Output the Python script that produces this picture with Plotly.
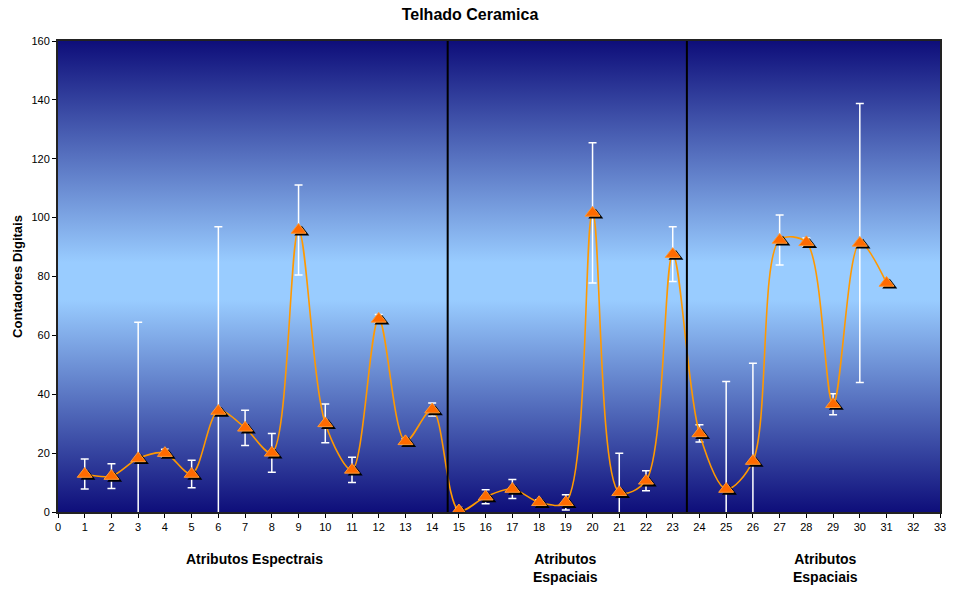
import plotly.graph_objects as go

# ---- data ----
atributos = list(range(1, 32))
contadores = [12.9, 12.2, 18.2, 20.0, 12.9, 34.3, 28.6, 20.1, 95.8, 30.1,
              14.3, 65.6, 24.0, 34.8, 0.5, 5.2, 7.8, 3.3, 3.3, 101.6,
              6.7, 10.6, 87.6, 26.7, 7.8, 17.3, 92.4, 91.6, 36.6, 91.4, 77.8]
desvio = [5.1, 4.2, 46.3, 1.3, 4.7, 62.6, 6.0, 6.6, 15.3, 6.6,
          4.3, 1.5, 0.9, 2.2, 1.0, 2.4, 3.2, 0.9, 2.6, 23.8,
          13.3, 3.4, 9.3, 2.9, 36.5, 33.2, 8.5, 1.5, 3.6, 47.4, 0.0]
separadores = [14.58, 23.53]
grupos = ["Atributos Espectrais", "Atributos<br>Espaciais", "Atributos<br>Espaciais"]
grupos_x = [7.35, 19.0, 28.7]
x_ticks = list(range(0, 34))
y_ticks = list(range(0, 161, 20))

XMAX, YMAX = 33, 160
NAVY = "rgb(14,14,122)"
LIGHT = "rgb(153,204,255)"
FONT = "Liberation Sans, Arial, sans-serif"

W, H = 954, 590

fig = go.Figure()

# gradient background
fig.add_trace(go.Scatter(
    x=[0, XMAX, XMAX, 0, 0], y=[0, 0, YMAX, YMAX, 0],
    mode="lines", line=dict(width=0), fill="toself",
    fillgradient=dict(type="vertical", start=0, stop=YMAX,
                      colorscale=[[0, NAVY], [0.45, LIGHT], [0.53, LIGHT], [1, NAVY]]),
    hoverinfo="skip", showlegend=False))

# smoothed line with error bars
fig.add_trace(go.Scatter(
    x=atributos, y=contadores, mode="lines",
    line=dict(color="#FF9900", width=1.6, shape="spline", smoothing=0.9),
    error_y=dict(type="data", array=desvio, visible=True, color="white",
                 thickness=1.5, width=4),
    showlegend=False))

# marker shadows (offset a few px down-right)
fig.add_trace(go.Scatter(
    x=[v + 0.12 for v in atributos], y=[v - 0.8 for v in contadores],
    mode="markers", marker=dict(symbol="triangle-up", size=13, color="black",
                                line=dict(width=0)),
    hoverinfo="skip", showlegend=False))

fig.add_trace(go.Scatter(
    x=atributos, y=contadores, mode="markers",
    marker=dict(symbol="triangle-up", size=13, color="#FF6A00",
                line=dict(color="#FF9933", width=1)),
    showlegend=False))

for s in separadores:
    fig.add_shape(type="line", x0=s, x1=s, y0=0, y1=YMAX, xref="x", yref="y",
                  line=dict(color="black", width=2))

for txt, gx in zip(grupos, grupos_x):
    fig.add_annotation(x=gx, y=0, xref="x", yref="y", text="<b>%s</b>" % txt,
                       showarrow=False, yanchor="top", yshift=-37,
                       font=dict(family=FONT, size=14, color="black"))

fig.update_layout(
    width=W, height=H,
    margin=dict(l=58, r=14, t=41, b=78, autoexpand=False),
    paper_bgcolor="white", plot_bgcolor="white",
    title=dict(text="<b>Telhado Ceramica</b>", x=470 / W, xref="container",
               y=1 - 14 / H, yref="container", yanchor="middle",
               automargin=False,
               font=dict(family=FONT, size=16, color="black")),
    font=dict(family=FONT, size=11, color="black"),
    xaxis=dict(range=[0, XMAX], tickvals=x_ticks, ticks="outside", ticklen=4,
               tickcolor="black", showgrid=False, zeroline=False, automargin=False,
               showline=True, linecolor="#222", linewidth=2, mirror=True,
               tickfont=dict(family=FONT, size=11)),
    yaxis=dict(range=[0, YMAX], tickvals=y_ticks, ticks="outside", ticklen=4,
               tickcolor="black", showgrid=False, zeroline=False, automargin=False,
               showline=True, linecolor="#222", linewidth=2, mirror=True,
               tickfont=dict(family=FONT, size=11),
               title=dict(text="<b>Contadores Digitais</b>", standoff=6,
                          font=dict(family=FONT, size=13))),
)

fig.write_html("out.html",
               config={"displayModeBar": False},
               post_script="document.body.style.margin='0';")
